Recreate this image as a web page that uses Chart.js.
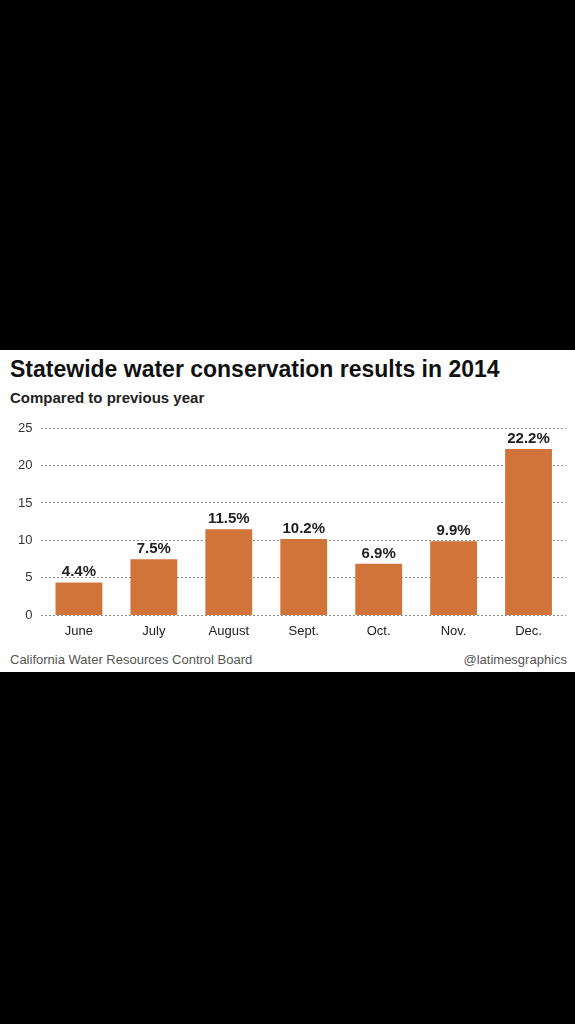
<!DOCTYPE html>
<html>
<head>
<meta charset="utf-8">
<script src="https://cdn.jsdelivr.net/npm/chart.js@4/dist/chart.umd.min.js"></script>
<style>
  html, body { margin: 0; padding: 0; background: #000; }
  body { width: 575px; height: 1024px; position: relative; overflow: hidden; font-family: "Liberation Sans", Arial, sans-serif; }
  #panel { position: absolute; left: 0; top: 350px; width: 575px; height: 322px; background: #fff; }
  .txt { position: absolute; line-height: 1; white-space: nowrap; }
  #title { left: 10px; top: 7.5px; font-size: 23px; font-weight: bold; color: #111; }
  #sub { left: 10px; top: 39.5px; font-size: 15px; font-weight: bold; color: #222; }
  #src { left: 10px; top: 303px; font-size: 13px; color: #555; }
  #credit { right: 8px; top: 303px; font-size: 13px; color: #555; }
  #wrap { position: absolute; left: 0; top: 60px; width: 575px; height: 237px; }
</style>
</head>
<body>
<div id="panel">
  <div class="txt" id="title">Statewide water conservation results in 2014</div>
  <div class="txt" id="sub">Compared to previous year</div>
  <div id="wrap"><canvas id="myChart"></canvas></div>
  <div class="txt" id="src">California Water Resources Control Board</div>
  <div class="txt" id="credit">@latimesgraphics</div>
</div>
<script>
const MONTHS = ["June", "July", "August", "Sept.", "Oct.", "Nov.", "Dec."];
const SAVINGS = [4.4, 7.5, 11.5, 10.2, 6.9, 9.9, 22.2];
const Y_TICKS = [0, 5, 10, 15, 20, 25];
const BAR_COLOR = "#d0743a";

// etiquetas con el valor encima de cada barra
var valueLabels = {
  id: "valueLabels",
  afterDatasetsDraw: function(chart){
    var ctx = chart.ctx;
    var meta = chart.getDatasetMeta(0);
    ctx.save();
    ctx.font = "bold 15px 'Liberation Sans', Arial, sans-serif";
    ctx.fillStyle = "#222";
    ctx.textAlign = "center";
    ctx.textBaseline = "alphabetic";
    meta.data.forEach(function(bar, i){
      ctx.fillText(SAVINGS[i].toFixed(1) + "%", bar.x, bar.y - 6);
    });
    ctx.restore();
  }
};

var ctx = document.getElementById("myChart").getContext("2d");
var chart = new Chart(ctx, {
  type: "bar",
  data: {
    labels: MONTHS,
    datasets: [{
      data: SAVINGS,
      backgroundColor: BAR_COLOR,
      borderWidth: 0,
      categoryPercentage: 1,
      barPercentage: 0.625
    }]
  },
  options: {
    responsive: true,
    maintainAspectRatio: false,
    animation: false,
    layout: { padding: { top: 18, left: 9, right: 9, bottom: 0 } },
    plugins: {
      legend: { display: false },
      tooltip: { enabled: false }
    },
    scales: {
      x: {
        grid: { display: false, drawTicks: false },
        border: { display: false },
        ticks: {
          padding: 8,
          color: "#222",
          font: { family: "'Liberation Sans', Arial, sans-serif", size: 13 }
        }
      },
      y: {
        min: 0,
        max: 25,
        afterBuildTicks: function(axis){
          axis.ticks = Y_TICKS.map(function(v){ return { value: v }; });
        },
        grid: { color: "#8a8a8a", lineWidth: 1, drawTicks: false },
        border: { display: false, dash: [2, 2] },
        ticks: {
          padding: 9,
          color: "#333",
          font: { family: "'Liberation Sans', Arial, sans-serif", size: 13 }
        }
      }
    }
  },
  plugins: [valueLabels]
});
</script>
</body>
</html>
